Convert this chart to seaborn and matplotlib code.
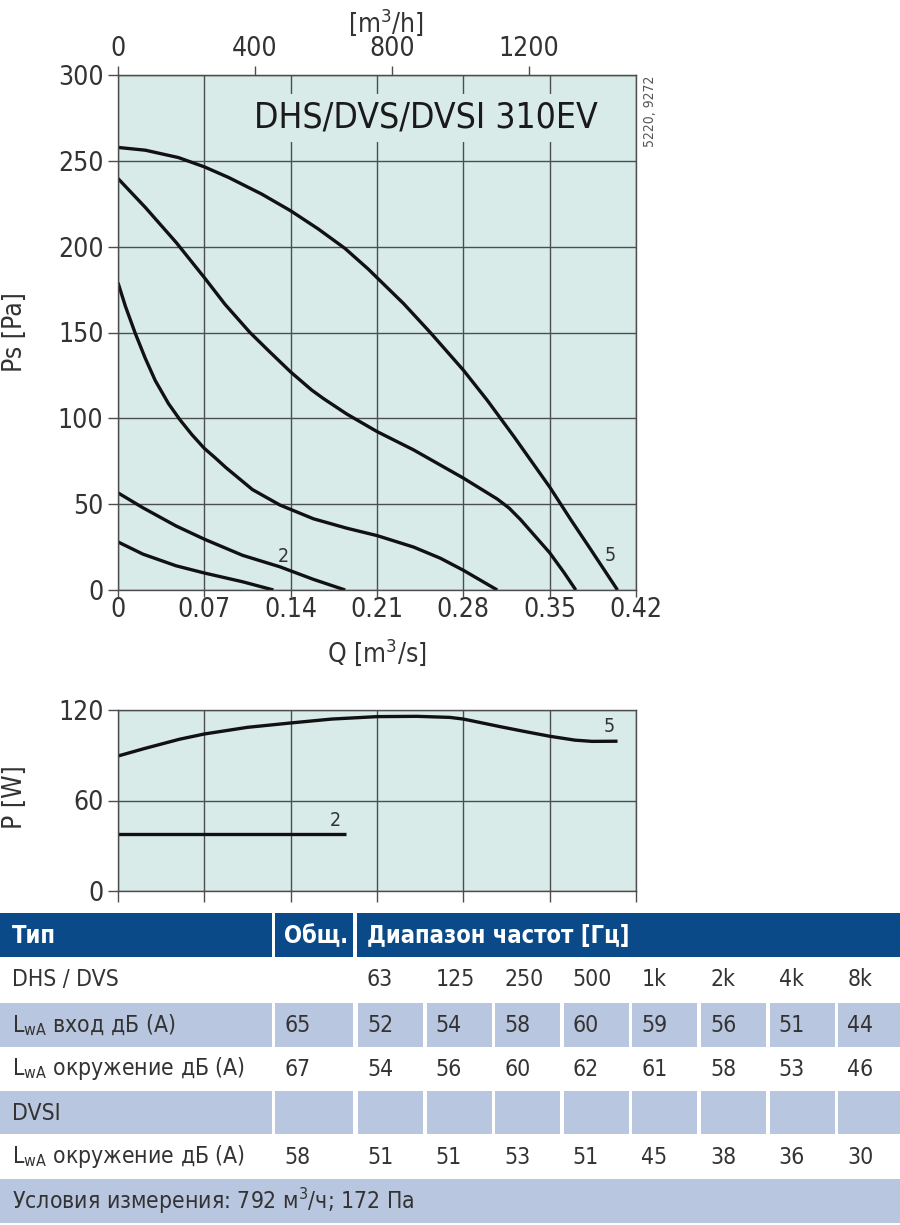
import numpy as np
import pandas as pd
import matplotlib
matplotlib.use('Agg')
import matplotlib.pyplot as plt
import seaborn as sns
from matplotlib.patches import Rectangle

# Кривые давления Ps [Pa] от расхода Q [m3/s]
q1 = [0, 0.0202, 0.0471, 0.07, 0.101, 0.126]
ps1 = [28, 20.9, 14.1, 9.9, 4.8, 0]
q2 = [0, 0.0202, 0.0471, 0.07, 0.101, 0.1313, 0.1584, 0.1842]
ps2 = [56.6, 47.9, 37.3, 29.6, 20.2, 13.5, 6.2, 0]
q3 = [0, 0.0059, 0.014, 0.0221, 0.0302, 0.041, 0.0504, 0.0599, 0.07, 0.0788, 0.0875, 0.109,
      0.1313, 0.1584, 0.1855, 0.21, 0.2397, 0.2614, 0.28, 0.3075]
ps3 = [179, 165.5, 149.5, 135, 122, 108.5, 99, 90.5, 82.5, 77, 71.3, 58.5,
       49.5, 41.5, 36, 31.7, 25, 18.5, 11.5, 0]
q4 = [0, 0.0221, 0.0471, 0.07, 0.0869, 0.107, 0.1219, 0.14, 0.157, 0.1666, 0.1855,
      0.21, 0.2397, 0.28, 0.3075, 0.317, 0.3264, 0.35, 0.3617, 0.3712]
ps4 = [239.7, 222.9, 202.5, 182, 166.3, 150, 139.5, 127, 116.5, 111.5, 102.5,
       92.3, 81.6, 65.2, 53, 47.8, 41, 21.7, 10.1, 0]
q5 = [0, 0.0221, 0.049, 0.07, 0.0897, 0.1166, 0.14, 0.1624, 0.184, 0.2028, 0.2316, 0.2532,
      0.28, 0.2993, 0.321, 0.35, 0.3671, 0.3833, 0.405]
ps5 = [257.8, 256.2, 251.9, 246.5, 240.3, 230.6, 220.9, 210.3, 199, 187, 166.8, 150,
       128.1, 110.6, 89.4, 60, 41, 23.6, 0]

# Мощность P [W]
qp5 = [0, 0.0221, 0.0498, 0.07, 0.1049, 0.14, 0.1734, 0.21, 0.2421, 0.269, 0.28, 0.3102,
       0.3294, 0.35, 0.3706, 0.3844, 0.405]
p5 = [89.5, 94.6, 100.6, 104.1, 108.5, 111.4, 114, 115.6, 115.8, 115.1, 114, 108.9,
      105.8, 102.6, 100.0, 99.2, 99.3]
qp2 = [0, 0.185]
p2 = [37.8, 37.8]

# Таблица шума
freqs = ['63', '125', '250', '500', '1k', '2k', '4k', '8k']
inlet_tot = 65
inlet = [52, 54, 58, 60, 59, 56, 51, 44]
surr_tot = 67
surr = [54, 56, 60, 62, 61, 58, 53, 46]
dvsi_tot = 58
dvsi = [51, 51, 53, 51, 45, 38, 36, 30]

sns.set_style('ticks')
plt.rcParams['font.family'] = ['DejaVu Sans']
plt.rcParams['font.stretch'] = 'condensed'
plt.rcParams['mathtext.fontset'] = 'custom'
plt.rcParams['mathtext.rm'] = 'DejaVu Sans:stretch=condensed'
plt.rcParams['mathtext.it'] = 'DejaVu Sans:stretch=condensed'

face = '#d8ebe9'
gridc = '#4d4d4d'
txt = '#333333'
blue = '#0a4a89'
light = '#b9c6df'

W, H = 900, 1225
fig = plt.figure(figsize=(9, 12.25), dpi=100)

def box(x0, y0, x1, y1):
    return [x0 / W, 1 - y1 / H, (x1 - x0) / W, (y1 - y0) / H]

# ---- Верхний график
ax1 = fig.add_axes(box(118, 75, 636, 590))
ax1.set_facecolor(face)
curves = [(q1, ps1), (q2, ps2), (q3, ps3), (q4, ps4), (q5, ps5)]
for q, p in curves:
    df = pd.DataFrame({'Q': q, 'Ps': p})
    sns.lineplot(data=df, x='Q', y='Ps', ax=ax1, color='#111111', lw=2.4,
                 sort=False, solid_capstyle='butt')
ax1.set_xlim(0, 0.42)
ax1.set_ylim(0, 300)
ax1.set_xticks(np.arange(0, 0.43, 0.07))
ax1.set_xticklabels(['0', '0.07', '0.14', '0.21', '0.28', '0.35', '0.42'])
ax1.set_yticks([0, 50, 100, 150, 200, 250, 300])
ax1.grid(True, color=gridc, lw=1.0)
ax1.tick_params(axis='y', length=7.5, width=1, color=gridc, labelsize=19, labelcolor=txt, pad=3)
ax1.tick_params(axis='x', length=5, width=1, color=gridc, labelsize=19, labelcolor=txt, pad=0)
for s in ax1.spines.values():
    s.set_color(gridc)
    s.set_linewidth(1)
ax1.set_xlabel('')
ax1.set_ylabel('')

sec = ax1.secondary_xaxis('top', functions=(lambda x: x * 3600, lambda x: x / 3600))
sec.set_xticks([0, 400, 800, 1200])
sec.tick_params(length=6.5, width=1, color=gridc, labelsize=19, labelcolor=txt, pad=3)
sec.spines['top'].set_color(gridc)

ax1.text(0.2497, 275, 'DHS/DVS/DVSI 310EV', ha='center', va='center', fontsize=25.5,
         color='#1a1a1a', fontweight='medium',
         bbox=dict(boxstyle='square,pad=0.2', fc=face, ec='none'))
ax1.text(0.134, 19.8, '2', ha='center', va='center', fontsize=14, color=txt)
ax1.text(0.3994, 20, '5', ha='center', va='center', fontsize=14, color=txt)

fig.text(386 / W, 1 - 22 / H, '[m$^3$/h]', ha='center', va='center', fontsize=19, color=txt)
fig.text(15 / W, 1 - 332 / H, 'Ps [Pa]', ha='center', va='center', fontsize=19, color=txt, rotation=90)
fig.text(377 / W, 1 - 652 / H, 'Q [m$^3$/s]', ha='center', va='center', fontsize=19, color=txt)
fig.text(650 / W, 1 - 111 / H, '5220, 9272', ha='center', va='center', fontsize=10, color='#555555', rotation=90)

# ---- График мощности
ax2 = fig.add_axes(box(118, 710, 636, 891))
ax2.set_facecolor(face)
for q, p in [(qp5, p5), (qp2, p2)]:
    df = pd.DataFrame({'Q': q, 'P': p})
    sns.lineplot(data=df, x='Q', y='P', ax=ax2, color='#111111', lw=2.4, sort=False,
                 solid_capstyle='butt')
ax2.set_xlim(0, 0.42)
ax2.set_ylim(0, 120)
ax2.set_xticks(np.arange(0, 0.43, 0.07))
ax2.set_xticklabels([])
ax2.set_yticks([0, 60, 120])
ax2.grid(True, color=gridc, lw=1.0)
ax2.tick_params(axis='y', length=7.5, width=1, color=gridc, labelsize=19, labelcolor=txt, pad=3)
ax2.tick_params(axis='x', length=8, width=1, color=gridc)
for s in ax2.spines.values():
    s.set_color(gridc)
    s.set_linewidth(1)
ax2.set_xlabel('')
ax2.set_ylabel('')
ax2.text(0.398, 109, '5', ha='center', va='center', fontsize=14, color=txt)
ax2.text(0.176, 46.6, '2', ha='center', va='center', fontsize=14, color=txt)
fig.text(15 / W, 1 - 797 / H, 'P [W]', ha='center', va='center', fontsize=19, color=txt, rotation=90)

# ---- Таблица
axt = fig.add_axes([0, 0, 1, 315 / H])
axt.set_xlim(0, W)
axt.set_ylim(H, 910)
axt.axis('off')

pitch = 68.6
fx = [357 + i * pitch for i in range(8)]

def cells(y0, y1, color):
    axt.add_patch(Rectangle((0, y0), 272, y1 - y0, fc=color, ec='none'))
    axt.add_patch(Rectangle((275, y0), 78, y1 - y0, fc=color, ec='none'))
    if color == blue:
        axt.add_patch(Rectangle((357, y0), W - 357, y1 - y0, fc=color, ec='none'))
    else:
        for x in fx:
            axt.add_patch(Rectangle((x + 1, y0), 65, y1 - y0, fc=color, ec='none'))

cells(913, 957, blue)
cells(1003, 1047, light)
cells(1091, 1134, light)
axt.add_patch(Rectangle((0, 1179), W, 44, fc=light, ec='none'))

hfs = 17
axt.text(12, 936, 'Тип', color='white', fontsize=hfs, fontweight='bold', va='center')
axt.text(284, 936, 'Общ.', color='white', fontsize=hfs, fontweight='bold', va='center')
axt.text(367, 936, 'Диапазон частот [Гц]', color='white', fontsize=hfs, fontweight='bold', va='center')

fs = 16.5
rows = [
    (980, 'DHS / DVS', '', freqs),
    (1025, r'L$_{\rm wA}$ вход дБ (A)', inlet_tot, inlet),
    (1069, r'L$_{\rm wA}$ окружение дБ (A)', surr_tot, surr),
    (1113, 'DVSI', '', ['' for _ in freqs]),
    (1157, r'L$_{\rm wA}$ окружение дБ (A)', dvsi_tot, dvsi),
]
for y, label, tot, vals in rows:
    axt.text(12, y, label, color=txt, fontsize=fs, va='center')
    axt.text(284, y, str(tot), color=txt, fontsize=fs, va='center')
    for x, v in zip(fx, vals):
        axt.text(x + 10, y, str(v), color=txt, fontsize=fs, va='center')
axt.text(12, 1201, 'Условия измерения: 792 м$^3$/ч; 172 Па', color=txt, fontsize=fs, va='center')

fig.savefig('out.png', dpi=100, facecolor='white')
